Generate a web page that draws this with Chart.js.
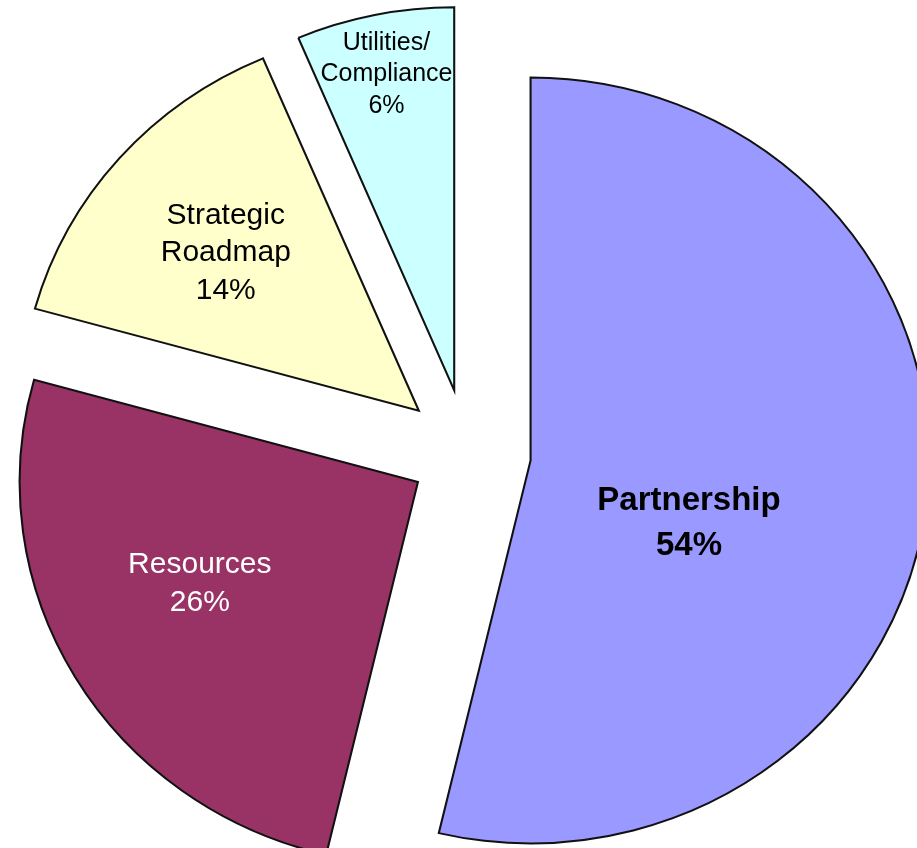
<!DOCTYPE html>
<html>
<head>
<meta charset="utf-8">
<style>
  html, body { margin: 0; padding: 0; background: #ffffff; overflow: hidden; }
  #wrap { width: 917px; height: 848px; position: relative; }
  canvas { display: block; }
</style>
<script src="https://cdn.jsdelivr.net/npm/chart.js@4.4.1/dist/chart.umd.min.js"></script>
</head>
<body>
<div id="wrap"><canvas id="c" width="917" height="848"></canvas></div>
<script>
// ---- data ----
const categories = ['Partnership', 'Resources', 'Strategic Roadmap', 'Utilities/ Compliance'];
const labelLines = [['Partnership'], ['Resources'], ['Strategic', 'Roadmap'], ['Utilities/', 'Compliance']];
const shares = [53.7, 25.6, 14.3, 6.4];
const sliceColors = ['#9999FF', '#993366', '#FFFFCC', '#CCFFFF'];

// ---- exploded slices + in-slice labels ----
function sliceVertex(arc, d) {
  const half = (arc.startAngle + arc.endAngle) / 2;
  return { x: arc.x + Math.cos(half) * d, y: arc.y + Math.sin(half) * d };
}

const explodePlugin = {
  id: 'explode',
  beforeDatasetDraw(chart, args, opts) {
    const ctx = chart.ctx;
    args.meta.data.forEach((arc, i) => {
      const v = sliceVertex(arc, opts.distances[i] || 0);
      ctx.save();
      ctx.translate(v.x, v.y);
      ctx.scale(opts.aspect, 1);
      ctx.translate(-arc.x, -arc.y);
      arc.draw(ctx);
      ctx.restore();
    });
    return false;
  },
  afterDatasetsDraw(chart, args, opts) {
    const ctx = chart.ctx;
    const meta = chart.getDatasetMeta(0);
    const total = shares.reduce((a, b) => a + b, 0);
    meta.data.forEach((arc, i) => {
      const v = sliceVertex(arc, opts.distances[i] || 0);
      const lp = opts.labels[i];
      const a = arc.startAngle + lp.along * (arc.endAngle - arc.startAngle);
      const cx = v.x + Math.cos(a) * lp.radial * arc.outerRadius;
      const cy = v.y + Math.sin(a) * lp.radial * arc.outerRadius;
      const lines = labelLines[i].concat([Math.round(shares[i] / total * 100) + '%']);
      ctx.save();
      ctx.font = (lp.bold ? 'bold ' : '') + lp.size + 'px "Liberation Sans", Arial, sans-serif';
      ctx.fillStyle = lp.color;
      ctx.textAlign = 'center';
      ctx.textBaseline = 'alphabetic';
      const capHalf = lp.size * 0.716 / 2;
      const n = lines.length;
      lines.forEach((t, k) => ctx.fillText(t, cx, cy + (k - (n - 1) / 2) * lp.lineHeight + capHalf));
      ctx.restore();
    });
  }
};

new Chart(document.getElementById('c'), {
  type: 'pie',
  data: {
    labels: categories,
    datasets: [{
      data: shares,
      backgroundColor: sliceColors,
      borderColor: '#111111',
      borderWidth: 2,
      borderJoinStyle: 'miter',
      radius: 383,
      clip: false
    }]
  },
  options: {
    responsive: false,
    animation: false,
    events: [],
    layout: { padding: { left: 17, right: 0, top: 58, bottom: 0 } },
    plugins: {
      legend: { display: false },
      tooltip: { enabled: false },
      explode: {
        aspect: 1.04,
        distances: [64, 57, 64, 64],
        labels: [
          { radial: 0.443, along: 0.574, size: 33, bold: true, color: '#000000', lineHeight: 45 },
          { radial: 0.626, along: 0.566, size: 30, bold: false, color: '#ffffff', lineHeight: 38.3 },
          { radial: 0.655, along: 0.470, size: 30, bold: false, color: '#000000', lineHeight: 37.5 },
          { radial: 0.849, along: 0.478, size: 25, bold: false, color: '#000000', lineHeight: 31.7 }
        ]
      }
    }
  },
  plugins: [explodePlugin]
});
</script>
</body>
</html>
